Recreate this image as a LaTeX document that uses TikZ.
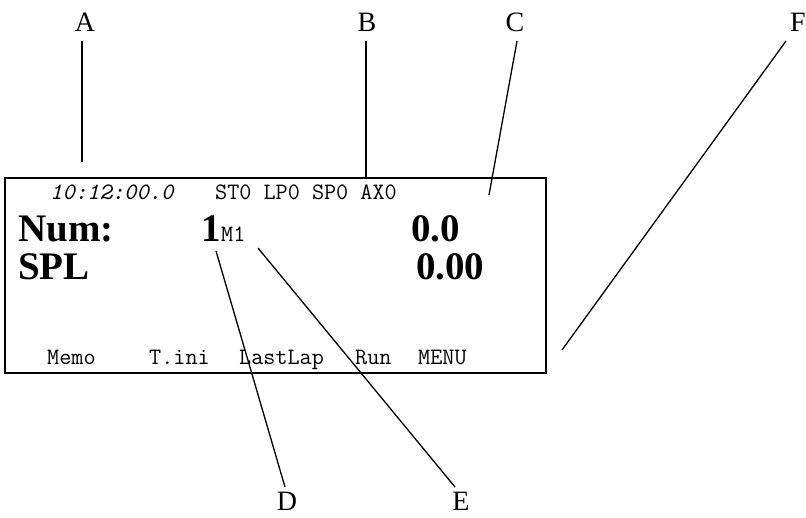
\documentclass[tikz,border=0pt]{standalone}
\usepackage{fontspec}
\setmainfont{Liberation Serif}
\begin{document}
\begin{tikzpicture}[x=1pt,y=-1pt,
  lcd/.style={draw=black,line width=2pt},
  leader/.style={draw=black,line width=1.3pt},
  callout/.style={anchor=base,inner sep=0pt,font=\fontsize{28}{30}\selectfont},
  small/.style={anchor=base west,inner sep=0pt,font=\fontsize{23.5}{25}\selectfont\ttfamily},
  smallit/.style={small,font=\fontsize{23.5}{25}\selectfont\ttfamily\itshape},
  big/.style={anchor=base west,inner sep=0pt,font=\fontsize{39}{40}\selectfont\bfseries}]
\useasboundingbox (0,0) rectangle (806,518);

% display frame
\draw[lcd] (5,178) rectangle (546,373);

% display contents
\node[smallit] (time) at (50,200) {10:12:00.0};
\node[small] (status) at (215,200) {ST0 LP0 SP0 AX0};
\node[big] (num) at (18,242) {Num:};
\node[big] (one) at (201,242) {1};
\node[small] (mode) at (221,242) {M1};
\node[big] (val1) at (411,242) {0.0};
\node[big] (spl) at (18,280) {SPL};
\node[big] (val2) at (416,280) {0.00};
\node[small] (memo) at (47,365) {Memo};
\node[small] (tini) at (149,365) {T.ini};
\node[small] (lastlap) at (239,365) {LastLap};
\node[small] (run) at (355,365) {Run};
\node[small] (menu) at (418,365) {MENU};

% callout letters
\node[callout] (A) at (85,32) {A};
\node[callout] (B) at (367,32) {B};
\node[callout] (C) at (515,32) {C};
\node[callout] (F) at (798,32) {F};
\node[callout] (D) at (287,510) {D};
\node[callout] (E) at (461,510) {E};

% leader line ends
\coordinate (a1) at (82,41);  \coordinate (a2) at (82,162);
\coordinate (b1) at (366,41); \coordinate (b2) at (366,178);
\coordinate (c1) at (517,41); \coordinate (c2) at (489,195);
\coordinate (f1) at (786,41); \coordinate (f2) at (562,350);
\coordinate (d1) at (216,251); \coordinate (d2) at (285,487);
\coordinate (e1) at (258,248); \coordinate (e2) at (455,487);

\draw[leader] (a1) -- (a2);
\draw[leader] (b1) -- (b2);
\draw[leader] (c1) -- (c2);
\draw[leader] (f1) -- (f2);
\draw[leader] (d1) -- (d2);
\draw[leader] (e1) -- (e2);
\end{tikzpicture}
\end{document}
